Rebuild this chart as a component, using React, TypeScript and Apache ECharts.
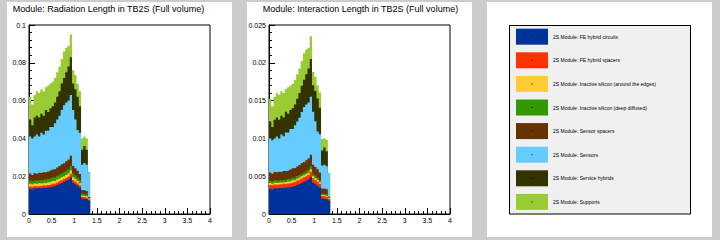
import React, { useEffect, useRef } from "react";
import * as echarts from "echarts";

const FONT = '"Liberation Sans", Arial, Helvetica, sans-serif';

// eta bins (left edges), width 0.05
const binStarts = [0, 0.05, 0.1, 0.15, 0.2, 0.25, 0.3, 0.35, 0.4, 0.45, 0.5, 0.55, 0.6, 0.65, 0.7, 0.75, 0.8, 0.85, 0.9, 0.95, 1.0, 1.05, 1.1, 1.15, 1.2, 1.25, 1.3];
const binEnd = 1.35;

const seriesNames = [
  "2S Module: FE hybrid circuits",
  "2S Module: FE hybrid spacers",
  "2S Module: Inactive silicon (around the edges)",
  "2S Module: Inactive silicon (deep diffused)",
  "2S Module: Sensor spacers",
  "2S Module: Sensors",
  "2S Module: Service hybrids",
  "2S Module: Supports",
];
const seriesColors = ["#003399", "#ff3300", "#ffcc33", "#339900", "#663300", "#66ccff", "#333300", "#99cc33"];

const titles = [
  "Module: Radiation Length in TB2S (Full volume)",
  "Module: Interaction Length in TB2S (Full volume)",
];

// Radiation length
const radFeCircuits = [0.0134, 0.0130, 0.0136, 0.0133, 0.0137, 0.0135, 0.0139, 0.0137, 0.0141, 0.0143, 0.0146, 0.0149, 0.0153, 0.0159, 0.0164, 0.0170, 0.0176, 0.0182, 0.0195, 0.0165, 0.0158, 0.0150, 0.0140, 0.0082, 0.0080, 0.0078, 0.0072];
const radFeSpacers = [0.0012, 0.0013, 0.0012, 0.0013, 0.0012, 0.0013, 0.0013, 0.0012, 0.0013, 0.0013, 0.0014, 0.0013, 0.0014, 0.0014, 0.0015, 0.0015, 0.0015, 0.0016, 0.0018, 0.0015, 0.0014, 0.0013, 0.0012, 0.0008, 0.0008, 0.0007, 0.0005];
const radInactiveEdges = [0.0014, 0.0013, 0.0014, 0.0013, 0.0014, 0.0014, 0.0013, 0.0014, 0.0014, 0.0014, 0.0015, 0.0014, 0.0015, 0.0015, 0.0016, 0.0015, 0.0016, 0.0016, 0.0017, 0.0014, 0.0013, 0.0012, 0.0011, 0.0007, 0.0007, 0.0007, 0.0004];
const radInactiveDeep = [0.0017, 0.0016, 0.0017, 0.0018, 0.0017, 0.0018, 0.0017, 0.0018, 0.0018, 0.0019, 0.0019, 0.0019, 0.0020, 0.0020, 0.0021, 0.0021, 0.0022, 0.0022, 0.0024, 0.0020, 0.0019, 0.0018, 0.0016, 0.0010, 0.0010, 0.0010, 0.0005];
const radSensorSpacers = [0.0037, 0.0035, 0.0038, 0.0036, 0.0038, 0.0037, 0.0039, 0.0040, 0.0039, 0.0041, 0.0042, 0.0043, 0.0044, 0.0046, 0.0047, 0.0048, 0.0050, 0.0052, 0.0054, 0.0040, 0.0038, 0.0036, 0.0032, 0.0020, 0.0021, 0.0020, 0.0004];
const radSensors = [0.0196, 0.0193, 0.0193, 0.0207, 0.0192, 0.0213, 0.0199, 0.0219, 0.0215, 0.0230, 0.0224, 0.0242, 0.0254, 0.0266, 0.0287, 0.0306, 0.0311, 0.0312, 0.0322, 0.0296, 0.0258, 0.0216, 0.0219, 0.0133, 0.0144, 0.0138, 0.0130];
const radServiceHybrids = [0.0090, 0.0070, 0.0100, 0.0100, 0.0100, 0.0100, 0.0100, 0.0110, 0.0100, 0.0100, 0.0110, 0.0110, 0.0120, 0.0130, 0.0140, 0.0145, 0.0160, 0.0180, 0.0200, 0.0140, 0.0160, 0.0175, 0.0140, 0.0080, 0.0090, 0.0080, 0];
const radSupports = [0.0120, 0.0110, 0.0120, 0.0130, 0.0130, 0.0130, 0.0130, 0.0120, 0.0140, 0.0130, 0.0130, 0.0130, 0.0130, 0.0130, 0.0130, 0.0140, 0.0130, 0.0110, 0.0120, 0.0070, 0.0075, 0.0070, 0.0080, 0.0060, 0.0050, 0.0060, 0];

// Interaction length
const intFeCircuits = [0.00335, 0.00325, 0.0034, 0.00333, 0.00343, 0.00338, 0.00348, 0.00343, 0.00353, 0.00358, 0.00365, 0.00373, 0.00383, 0.00398, 0.0041, 0.00425, 0.0044, 0.00455, 0.00488, 0.00413, 0.00395, 0.00375, 0.0035, 0.00205, 0.002, 0.00195, 0.0018];
const intFeSpacers = [0.0005, 0.00052, 0.0005, 0.00053, 0.0005, 0.00052, 0.00053, 0.0005, 0.00052, 0.00053, 0.00055, 0.00053, 0.00056, 0.00056, 0.0006, 0.0006, 0.0006, 0.00062, 0.0007, 0.0006, 0.00056, 0.00052, 0.0005, 0.00032, 0.00032, 0.0003, 0.0002];
const intInactiveEdges = [0.00025, 0.00023, 0.00025, 0.00023, 0.00025, 0.00025, 0.00023, 0.00025, 0.00025, 0.00025, 0.00027, 0.00025, 0.00027, 0.00027, 0.00028, 0.00027, 0.00028, 0.00028, 0.0003, 0.00025, 0.00023, 0.00022, 0.0002, 0.00013, 0.00013, 0.00013, 0.00008];
const intInactiveDeep = [0.0003, 0.00028, 0.0003, 0.00032, 0.0003, 0.00032, 0.0003, 0.00032, 0.00032, 0.00034, 0.00034, 0.00034, 0.00035, 0.00035, 0.00037, 0.00037, 0.00039, 0.00039, 0.00042, 0.00035, 0.00034, 0.00032, 0.00028, 0.00018, 0.00018, 0.00018, 0.0001];
const intSensorSpacers = [0.0011, 0.00105, 0.0011, 0.00107, 0.0011, 0.0011, 0.00115, 0.0012, 0.00115, 0.0012, 0.00123, 0.00125, 0.00128, 0.00133, 0.00135, 0.0014, 0.00145, 0.0015, 0.00155, 0.0012, 0.00115, 0.0011, 0.001, 0.0007, 0.0007, 0.0007, 0.0001];
const intSensors = [0.0045, 0.00443, 0.00443, 0.00478, 0.0044, 0.00493, 0.00458, 0.00508, 0.00498, 0.00535, 0.0052, 0.00565, 0.00595, 0.00625, 0.00678, 0.00725, 0.00738, 0.0074, 0.00765, 0.007, 0.00605, 0.005, 0.00508, 0.00303, 0.0032, 0.00305, 0.00315];
const intServiceHybrids = [0.00225, 0.00175, 0.0025, 0.0025, 0.0025, 0.0025, 0.0025, 0.00275, 0.0025, 0.0025, 0.00275, 0.00275, 0.003, 0.00325, 0.0035, 0.00363, 0.004, 0.0045, 0.005, 0.0035, 0.004, 0.00438, 0.0035, 0.002, 0.00225, 0.002, 0];
const intSupports = [0.003, 0.00275, 0.003, 0.00325, 0.00325, 0.00325, 0.00325, 0.003, 0.0035, 0.00325, 0.00325, 0.00325, 0.00325, 0.00325, 0.00325, 0.0035, 0.00325, 0.00275, 0.003, 0.00175, 0.00188, 0.00175, 0.002, 0.0015, 0.00125, 0.0015, 0];

const radLayers = [radFeCircuits, radFeSpacers, radInactiveEdges, radInactiveDeep, radSensorSpacers, radSensors, radServiceHybrids, radSupports];
const intLayers = [intFeCircuits, intFeSpacers, intInactiveEdges, intInactiveDeep, intSensorSpacers, intSensors, intServiceHybrids, intSupports];

const yMax = [0.1, 0.025];
const yInterval = [0.02, 0.005];

function buildSeries(layers: number[][], grid: number) {
  const n = binStarts.length;
  let running = new Array(n).fill(0);
  const cum: number[][] = [];
  layers.forEach((arr) => {
    running = running.map((v, i) => v + arr[i]);
    cum.push(running.slice());
  });
  const out: any[] = [];
  for (let k = layers.length - 1; k >= 0; k--) {
    const pts: number[][] = binStarts.map((x, i) => [x, cum[k][i]]);
    pts.push([binEnd, 0]);
    out.push({
      type: "line",
      name: seriesNames[k],
      xAxisIndex: grid,
      yAxisIndex: grid,
      step: "end",
      symbol: "none",
      showSymbol: false,
      silent: true,
      color: seriesColors[k],
      lineStyle: { width: 0, color: seriesColors[k] },
      itemStyle: { color: seriesColors[k] },
      areaStyle: { color: seriesColors[k], opacity: 1 },
      data: pts,
    });
  }
  return out;
}

const gridLefts = [29, 269];
const titleLefts = [12.7, 262.7];

export default function App() {
  const ref = useRef<HTMLDivElement>(null);
  useEffect(() => {
    if (!ref.current) return;
    const chart = echarts.init(ref.current, undefined, { renderer: "svg" });
    const axisCommon = {
      axisLine: { show: true, onZero: false, lineStyle: { color: "#000", width: 1 } },
      axisTick: { show: true, inside: true, length: 6, lineStyle: { color: "#000", width: 1 } },
      minorTick: { show: true, splitNumber: 5, length: 3, lineStyle: { color: "#000", width: 1 } },
      splitLine: { show: false },
      minorSplitLine: { show: false },
    };
    const legendTop = 28.7;
    const legendStep = 23.6;
    const dots = seriesNames.map((_, i) => ({
      type: "rect",
      shape: { x: 531.5, y: legendTop + 7.5 + i * legendStep, width: 1, height: 1 },
      style: { fill: "#000" },
      z: 100,
    }));
    chart.setOption({
      animation: false,
      title: [0, 1].map((g) => ({
        text: titles[g],
        left: titleLefts[g],
        top: 4,
        padding: 0,
        textStyle: { fontSize: 9, fontWeight: "normal", color: "#000", fontFamily: FONT },
      })),
      grid: [0, 1].map((g) => ({
        left: gridLefts[g],
        top: 25,
        width: 181,
        height: 189,
        show: true,
        borderColor: "#000",
        borderWidth: 1,
        backgroundColor: "transparent",
      })),
      xAxis: [0, 1].map((g) => ({
        type: "value",
        gridIndex: g,
        min: 0,
        max: 4,
        interval: 0.5,
        ...axisCommon,
        axisLabel: { fontSize: 7, color: "#000", margin: 3, fontFamily: FONT },
      })),
      yAxis: [0, 1].map((g) => ({
        type: "value",
        gridIndex: g,
        min: 0,
        max: yMax[g],
        interval: yInterval[g],
        ...axisCommon,
        axisLabel: { fontSize: 7, color: "#000", margin: 3, fontFamily: FONT },
      })),
      legend: {
        orient: "vertical",
        left: 516,
        top: legendTop,
        itemWidth: 32,
        itemHeight: 16,
        itemGap: legendStep - 16,
        padding: 0,
        selectedMode: false,
        icon: "rect",
        textStyle: { fontSize: 5, color: "#000", fontFamily: FONT },
        data: seriesNames.map((name, k) => ({ name, icon: "rect", itemStyle: { color: seriesColors[k], borderWidth: 0 } })),
      },
      graphic: [
        {
          type: "rect",
          shape: { x: 509.5, y: 25.5, width: 181, height: 188.5 },
          style: { fill: "#f0f0f0", stroke: "#000", lineWidth: 1 },
          z: -1,
        },
        ...dots,
      ],
      series: [...buildSeries(radLayers, 0), ...buildSeries(intLayers, 1)],
    });
    return () => chart.dispose();
  }, []);

  const panel = (left: number) => ({
    position: "absolute" as const,
    left,
    top: 2,
    width: 225,
    height: 235,
    background: "#ffffff",
  });

  return (
    <div style={{ position: "fixed", left: 0, top: 0, width: 720, height: 240, background: "#cccccc", overflow: "hidden" }}>
      <div style={panel(7)} />
      <div style={panel(247)} />
      <div style={panel(487)} />
      <div ref={ref} style={{ position: "absolute", left: 0, top: 0, width: 720, height: 240 }} />
    </div>
  );
}
